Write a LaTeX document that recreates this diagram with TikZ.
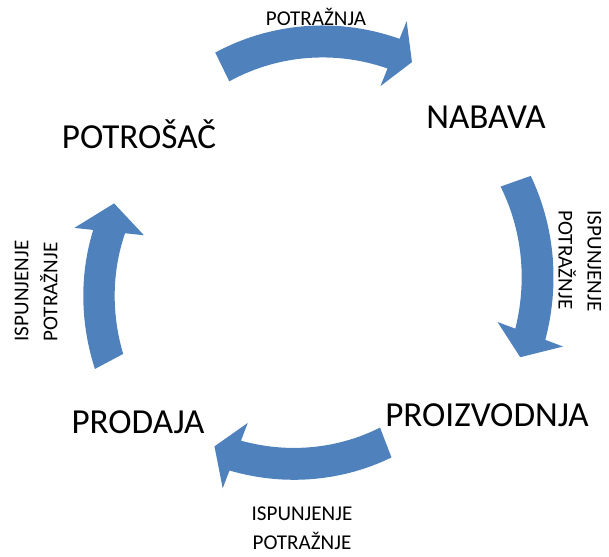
\documentclass[tikz,border=0pt]{standalone}
\usepackage{fontspec}
\setmainfont{Carlito}
\usetikzlibrary{positioning}
\definecolor{cycblue}{RGB}{79,129,189}
\tikzstyle{stage} = [font=\fontsize{20}{24}\selectfont, inner sep=0pt]
\tikzstyle{flowlabel} = [font=\fontsize{12}{16.5}\selectfont, align=center, inner sep=0pt]
\tikzstyle{cycfill} = [fill=cycblue, draw=none]
% tail angle, head angle, tip angle, radius at tail, radius at head
\newcommand{\cyclearrow}[5]{%
  \fill[cycfill] plot[domain=#1:#2, samples=30] (\x:{#4+(#5-(#4))*(\x-(#1))/(#2-(#1))+16})
    -- (#2:{#5+35}) -- (#3:{#5}) -- (#2:{#5-35})
    -- plot[domain=#2:#1, samples=30] (\x:{#4+(#5-(#4))*(\x-(#1))/(#2-(#1))-16}) -- cycle;}

\begin{document}
\begin{tikzpicture}[x=0.02cm, y=0.02cm]
    \useasboundingbox (0,0) rectangle (609,556);

    % Arrows round the cycle
    \begin{scope}[shift={(313,303)}]
        \cyclearrow{116}{68}{62.6}{207}{215}
        \cyclearrow{19.5}{-20.5}{-26.7}{215}{232}
        \cyclearrow{-69}{-111}{-117}{203}{217}
        \cyclearrow{208}{174}{166}{231}{205}
    \end{scope}

    % Stages
    \node[stage] (potrosac) at (139,422) {POTROŠAČ};
    \node[stage] (nabava) at (486,439) {NABAVA};
    \node[stage] (proizvodnja) at (487,141) {PROIZVODNJA};
    \node[stage] (prodaja) at (138,134) {PRODAJA};

    % Arrow labels
    \node[flowlabel] (demand) at (316,539) {POTRAŽNJA};
    \node[flowlabel, rotate=-90, align=left] (supplyright) at (580,295) {ISPUNJENJE\\POTRAŽNJE};
    \node[flowlabel] (supplybottom) at (302,28) {ISPUNJENJE\\POTRAŽNJE};
    \node[flowlabel, rotate=90, align=left] (supplyleft) at (36,265) {ISPUNJENJE\\POTRAŽNJE};

\end{tikzpicture}
\end{document}
